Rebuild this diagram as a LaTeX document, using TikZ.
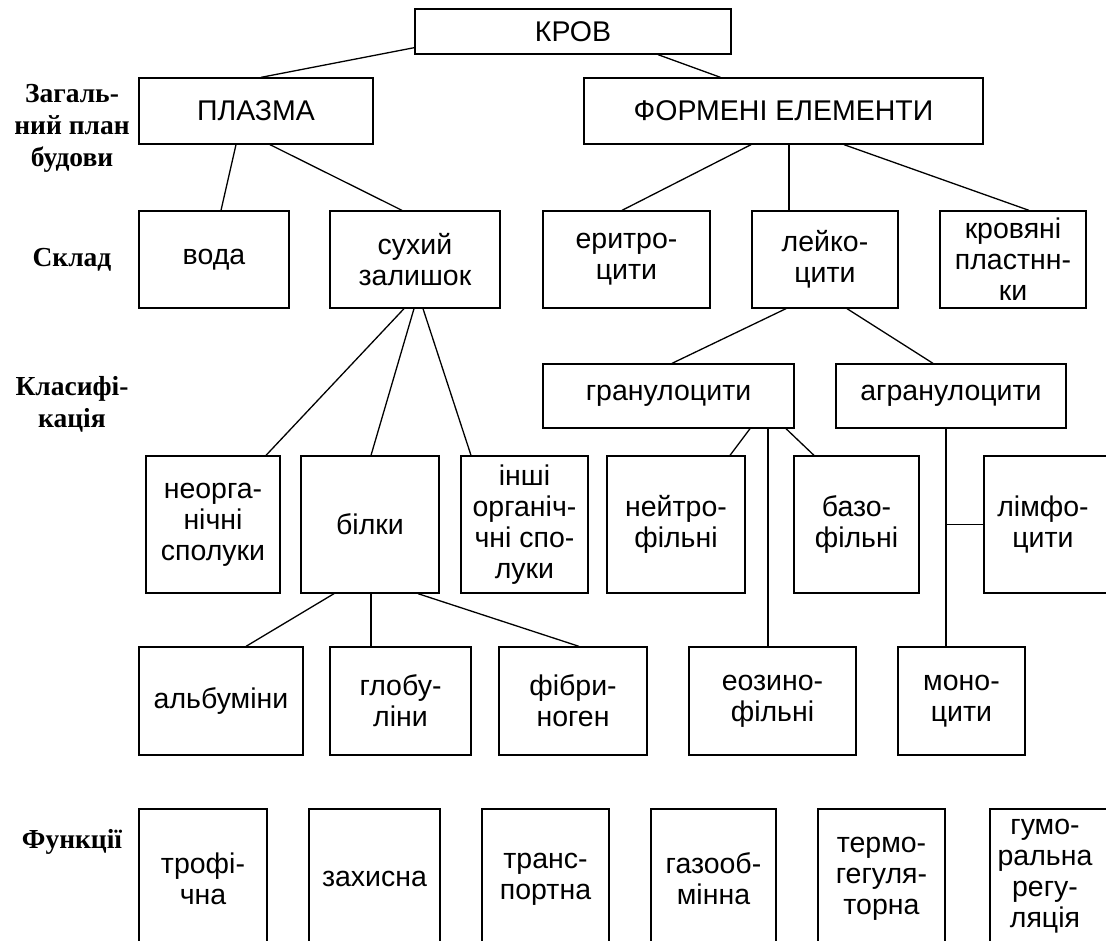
\documentclass[tikz,border=0pt]{standalone}
\usepackage{fontspec}
\setmainfont{Liberation Sans}
\newfontfamily\lblfont{Liberation Serif}
\begin{document}
\begin{tikzpicture}[x=1pt,y=-1pt,line width=1.3pt,
    box/.style={draw,rectangle,inner sep=0pt,align=center,
      font=\fontsize{28.5}{31}\selectfont},
    lbl/.style={align=center,font=\lblfont\bfseries\fontsize{27.5}{32}\selectfont}]
            \useasboundingbox (0,0) rectangle (1106,940);
            \clip (0,0) rectangle (1106,940);

            \node[box,minimum width=316,minimum height=45] (krov) at (573,31.5) {КРОВ};
            \node[box,minimum width=234,minimum height=66] (plazma) at (256,111) {ПЛАЗМА};
            \node[box,minimum width=399,minimum height=66] (formeni) at (783.5,111) {ФОРМЕНІ ЕЛЕМЕНТИ};

            \node[box,minimum width=150,minimum height=97] (voda) at (214,259.5) {вода};
            \node[box,minimum width=170,minimum height=97] (suhyi) at (415,259.5) {сухий\\залишок};
            \node[box,minimum width=167,minimum height=97] (erytro) at (626.5,259.5) {еритро-\\цити};
            \node[box,minimum width=146,minimum height=97] (leiko) at (825,259.5) {лейко-\\цити};
            \node[box,minimum width=146,minimum height=97] (krovyani) at (1013,259.5) {кровяні\\пластнн-\\ки};

            \node[box,minimum width=251,minimum height=64] (granul) at (668.5,396) {гранулоцити};
            \node[box,minimum width=230,minimum height=64] (agranul) at (951,396) {агранулоцити};

            \node[box,minimum width=134,minimum height=137] (neorg) at (213,524.5) {неорга-\\нічні\\сполуки};
            \node[box,minimum width=138,minimum height=137] (bilky) at (370,524.5) {білки};
            \node[box,minimum width=127,minimum height=137] (inshi) at (524.5,524.5) {інші\\органіч-\\чні спо-\\луки};
            \node[box,minimum width=138,minimum height=137] (neitro) at (676,524.5) {нейтро-\\фільні};
            \node[box,minimum width=125,minimum height=137] (bazo) at (856.5,524.5) {базо-\\фільні};
            \node[box,minimum width=128,minimum height=137] (limfo) at (1048,524.5) {};
            \node[align=center,font=\fontsize{28.5}{31}\selectfont] (limfotext) at (1043,524.5) {лімфо-\\цити};

            \node[box,minimum width=164,minimum height=108] (albumin) at (221,701) {альбуміни};
            \node[box,minimum width=141,minimum height=108] (globu) at (400.5,701) {глобу-\\ліни};
            \node[box,minimum width=148,minimum height=108] (fibry) at (573,701) {фібри-\\ноген};
            \node[box,minimum width=167,minimum height=108] (eozyno) at (772.5,701) {еозино-\\фільні};
            \node[box,minimum width=127,minimum height=108] (mono) at (961.5,701) {моно-\\цити};

            \node[box,minimum width=128,minimum height=140] (trofi) at (203,879) {трофі-\\чна};
            \node[box,minimum width=131,minimum height=140] (zahysna) at (374.5,879) {захисна};
            \node[box,minimum width=127,minimum height=140] (trans) at (545.5,879) {транс-\\портна};
            \node[box,minimum width=125,minimum height=140] (gazoob) at (713.5,879) {газооб-\\мінна};
            \node[box,minimum width=127,minimum height=140] (termo) at (881.5,879) {термо-\\гегуля-\\торна};
            \node[box,minimum width=124,minimum height=140] (gumo) at (1052,879) {};
            \node[align=center,font=\fontsize{28.5}{31}\selectfont] (gumotext) at (1045,876) {гумо-\\ральна\\регу-\\ляція};

            % rubrics on the left
            \node[lbl] (plan) at (72,128) {Загаль-\\ний план\\будови};
            \node[lbl] (sklad) at (72,260) {Склад};
            \node[lbl] (klas) at (72,404) {Класифі-\\кація};
            \node[lbl] (funk) at (72,842) {Функції};

            \draw ([yshift=7pt]krov.south west) to ([xshift=5pt]plazma.north);
            \draw ([xshift=85pt]krov.south) to ([xshift=-63pt]formeni.north);

            \draw ([xshift=-20pt]plazma.south) to ([xshift=7pt]voda.north);
            \draw ([xshift=14pt]plazma.south) to ([xshift=-13pt]suhyi.north);
            \draw ([xshift=-32.5pt]formeni.south) to ([xshift=-4.5pt]erytro.north);
            \draw ([xshift=5.5pt]formeni.south) to ([xshift=5.5pt]formeni.south |- leiko.north);
            \draw ([xshift=60.5pt]formeni.south) to ([xshift=16pt]krovyani.north);

            \draw ([xshift=-11pt]suhyi.south) to ([xshift=53pt]neorg.north);
            \draw ([xshift=-1pt]suhyi.south) to ([xshift=1pt]bilky.north);
            \draw ([xshift=8pt]suhyi.south) to ([xshift=-53.5pt]inshi.north);
            \draw ([xshift=-39pt]leiko.south) to ([xshift=3.5pt]granul.north);
            \draw ([xshift=22pt]leiko.south) to ([xshift=-18pt]agranul.north);

            \draw ([xshift=81.5pt]granul.south) to ([xshift=54pt]neitro.north);
            \draw ([xshift=99.5pt]granul.south) to ([xshift=99.5pt]granul.south |- eozyno.north);
            \draw ([xshift=117.5pt]granul.south) to ([xshift=-42.5pt]bazo.north);
            \coordinate (ag) at ([xshift=-5pt]agranul.south);
            \draw (ag) to (ag |- mono.north);
            \draw (ag |- limfo.west) to (limfo.west);

            \draw ([xshift=-36pt]bilky.south) to ([xshift=25pt]albumin.north);
            \draw ([xshift=1pt]bilky.south) to ([xshift=1pt]bilky.south |- globu.north);
            \draw ([xshift=48pt]bilky.south) to ([xshift=6pt]fibry.north);
        \end{tikzpicture}
\end{document}
